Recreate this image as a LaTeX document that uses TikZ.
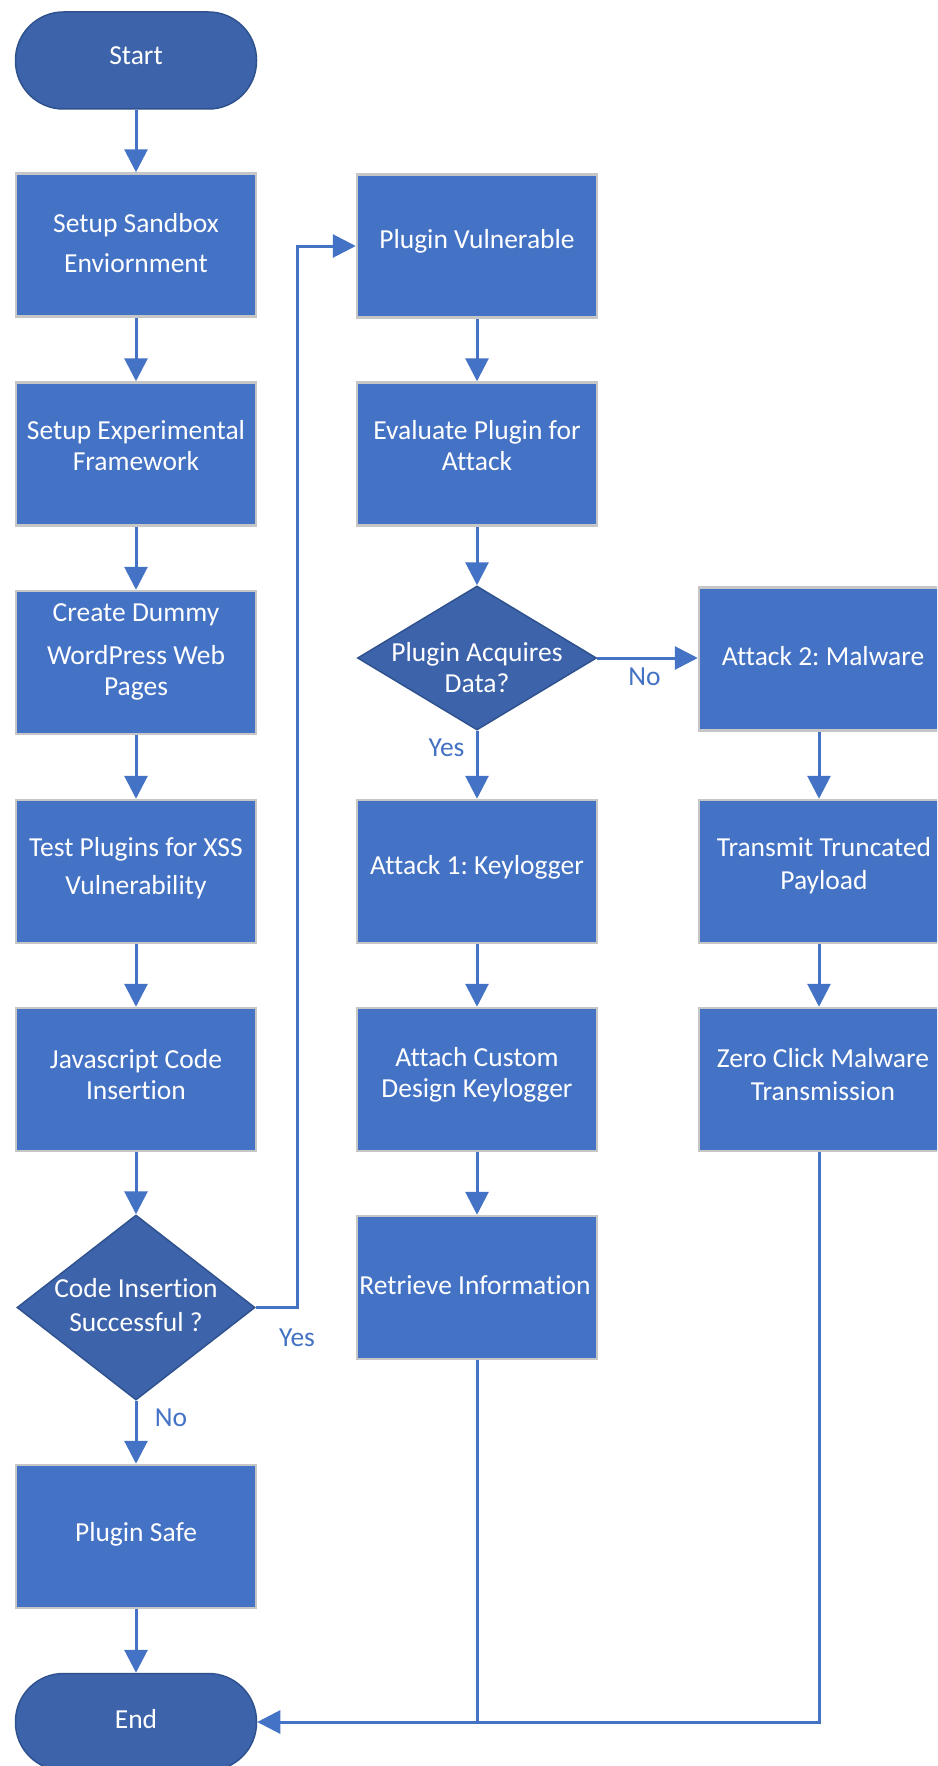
\documentclass[tikz,border=0pt]{standalone}
\usepackage{fontspec}
\setmainfont{Carlito}[Ligatures=NoCommon]
\usetikzlibrary{arrows.meta,shapes.geometric}
\definecolor{boxblue}{RGB}{68,114,196}
\definecolor{darkblue}{RGB}{61,99,170}
\definecolor{darkedge}{RGB}{47,82,143}
\definecolor{boxedge}{RGB}{198,198,198}
\frenchspacing
\begin{document}
\begin{tikzpicture}[x=1pt,y=-1pt,
  procbox/.style={draw=boxedge, line width=2.5pt, fill=boxblue, minimum width=240pt, minimum height=143pt, inner sep=0pt},
  termbox/.style={draw=darkedge, line width=1.5pt, fill=darkblue, rounded corners=48pt, minimum width=241pt, minimum height=97pt, inner sep=0pt},
  decbox/.style={draw=darkedge, line width=1.5pt, fill=darkblue, shape=diamond, minimum width=238pt, minimum height=185pt, inner sep=0pt},
  intext/.style={text=white, font=\fontsize{27.5}{31}\selectfont, align=center, inner sep=0pt},
  lbl/.style={text=boxblue, font=\fontsize{27.5}{31}\selectfont, inner sep=0pt},
  conn/.style={draw=boxblue, line width=3pt},
  arr/.style={conn, -{Triangle[width=23pt,length=23pt]}}
]
\clip (0,0) rectangle (937,1766);
\fill[white] (0,0) rectangle (937,1766);

% left column
\node[termbox] (start) at (136,60.5) {};
\node[intext] (tstart) at (136,56) {Start};
\node[procbox] (b1) at (136,245) {};
\node[intext] (tb1) at (136,243) {Setup Sandbox\\[9pt]Enviornment};
\node[procbox] (b2) at (136,454) {};
\node[intext] (tb2) at (136,446) {Setup Experimental\\Framework};
\node[procbox] (b3) at (136,662.5) {};
\node[intext] (tb3) at (136,652) {Create Dummy\\[12pt]WordPress Web\\Pages};
\node[procbox] (b4) at (136,871.5) {};
\node[intext] (tb4) at (136,868) {Test Plugins for XSS\\[7pt]Vulnerability};
\node[procbox] (b5) at (136,1079.5) {};
\node[intext] (tb5) at (136,1075) {Javascript Code\\Insertion};
\node[decbox] (d1) at (136,1307.5) {};
\node[intext] (td1) at (136,1305) {Code Insertion\\[3pt]Successful ?};
\node[procbox] (b6) at (136,1536.5) {};
\node[intext] (tb6) at (136,1534) {Plugin Safe};
\node[termbox] (end) at (136,1722) {};
\node[intext] (tend) at (136,1719) {End};

% middle column
\node[procbox] (m1) at (477,246) {};
\node[intext] (tm1) at (477,241) {Plugin Vulnerable};
\node[procbox] (m2) at (477,454) {};
\node[intext] (tm2) at (477,446) {Evaluate Plugin for\\Attack};
\node[decbox, minimum width=239pt, minimum height=144pt] (d2) at (477,658) {};
\node[intext] (td2) at (477,668) {Plugin Acquires\\Data?};
\node[procbox] (m3) at (477,871.5) {};
\node[intext] (tm3) at (477,867) {Attack 1: Keylogger};
\node[procbox] (m4) at (477,1079.5) {};
\node[intext] (tm4) at (477,1075) {Attach Custom\\Design Keylogger};
\node[procbox] (m5) at (477,1287.5) {};
\node[intext] (tm5) at (475,1285) {Retrieve Information};

% right column
\node[procbox] (r1) at (819,659) {};
\node[intext] (tr1) at (823,656) {Attack 2: Malware};
\node[procbox] (r2) at (819,871.5) {};
\node[intext] (tr2) at (824,866) {Transmit Truncated\\[2pt]Payload};
\node[procbox] (r3) at (819,1079.5) {};
\node[intext] (tr3) at (823,1075) {Zero Click Malware\\[2pt]Transmission};

% connectors, left column
\draw[arr] (start.south) -- (b1.north);
\draw[arr] (b1.south) -- (b2.north);
\draw[arr] (b2.south) -- (b3.north);
\draw[arr] (b3.south) -- (b4.north);
\draw[arr] (b4.south) -- (b5.north);
\draw[arr] (b5.south) -- (d1.north);
\draw[arr] (d1.south) -- (b6.north);
\node[lbl] (lno1) at (171,1418) {No};
\draw[arr] (b6.south) -- (end.north);

% yes branch to middle column
\coordinate (yj) at (297,1307.5);
\draw[arr] (d1.east) -- (yj) |- (m1.west);
\node[lbl] (lyes1) at (297,1338) {Yes};

% middle column
\draw[arr] (m1.south) -- (m2.north);
\draw[arr] (m2.south) -- (d2.north);
\draw[arr] (d2.south) -- (m3.north);
\node[lbl] (lyes2) at (446.5,748) {Yes};
\draw[arr] (d2.east) -- (d2.east -| r1.west);
\node[lbl] (lno2) at (644.5,677) {No};
\draw[arr] (m3.south) -- (m4.north);
\draw[arr] (m4.south) -- (m5.north);

% right column
\draw[arr] (r1.south) -- (r2.north);
\draw[arr] (r2.south) -- (r3.north);

% return to End
\draw[conn] (m5.south) -- (m5.south |- end.east);
\draw[arr] (r3.south) |- (end.east);
\end{tikzpicture}
\end{document}
